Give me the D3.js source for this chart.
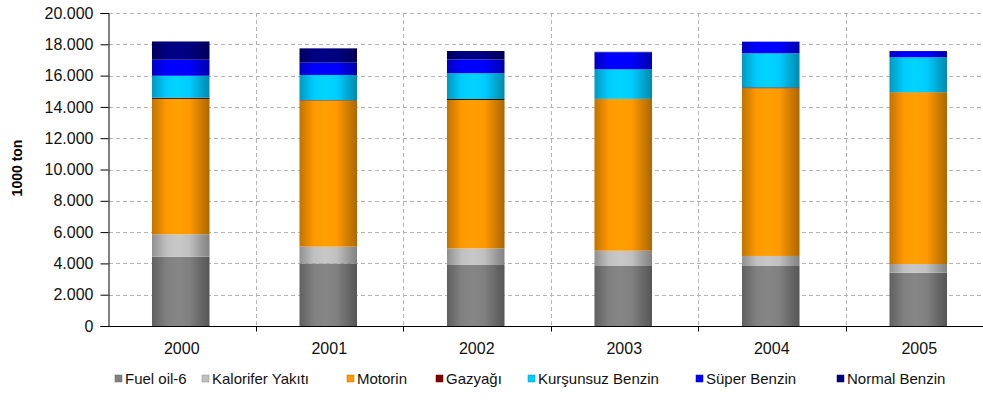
<!DOCTYPE html>
<html><head><meta charset="utf-8">
<script src="https://cdn.jsdelivr.net/npm/d3@7"></script>
<style>body{margin:0;background:#fff}svg{display:block}text{font-family:"Liberation Sans",Arial,sans-serif}</style>
</head><body><svg id="c" width="983" height="400"></svg>
<script>
const years = ["2000","2001","2002","2003","2004","2005"];
const seriesNames = ["Fuel oil-6","Kalorifer Yakıtı","Motorin","Gazyağı","Kurşunsuz Benzin","Süper Benzin","Normal Benzin"];
const seriesColors = ["#808080","#c0c0c0","#ff9900","#800000","#00ccff","#0000ff","#000080"];
const fuelOil   = [4430, 4000, 3900, 3835, 3835, 3405];
const kalorifer = [1430, 1070, 1060,  975,  640,  555];
const motorin   = [8650, 9340, 9480, 9695,10715,10970];
const gazyagi   = [  80,   30,   65,   10,   60,   10];
const kursunsuz = [1400, 1600, 1645, 1885, 2175, 2230];
const super_    = [1025,  785,  880, 1090,  745,  400];
const normal    = [1166,  915,  543,   30,    0,    0];
const yTicks = [0,2000,4000,6000,8000,10000,12000,14000,16000,18000,20000];

const seriesValues = [fuelOil,kalorifer,motorin,gazyagi,kursunsuz,super_,normal];
const rows = years.map((y,i)=>{const r={year:y}; seriesNames.forEach((s,j)=>r[s]=seriesValues[j][i]); return r;});
const stacked = d3.stack().keys(seriesNames)(rows);

const svg = d3.select("#c");
const x = d3.scaleBand().domain(years).range([108,993]).padding(0);
const y = d3.scaleLinear().domain([0,20000]).range([326,13]);
const fmt = v => d3.format(",")(v).replace(/,/g,".");

// gradients (cylinder shading)
const defs = svg.append("defs");
seriesColors.forEach((c,i)=>{
  const g = defs.append("linearGradient").attr("id","g"+i).attr("x1","0").attr("x2","1").attr("y1","0").attr("y2","0");
  const base = i===3 ? d3.color("#401010") : d3.color(c);
  const stops = [[0, base.darker(0.8)],[0.25, base],[0.45, base.brighter(0.12)],[0.65, base],[0.85, base.darker(0.6)],[1, base.darker(1.1)]];
  stops.forEach(([o,col])=>g.append("stop").attr("offset",o).attr("stop-color",col.formatHex()));
});

// grid
const grid = svg.append("g").attr("stroke","#b4b4b4").attr("stroke-dasharray","4,3").attr("stroke-width",1);
yTicks.filter(t=>t>0).forEach(t=>grid.append("line").attr("x1",109).attr("x2",983).attr("y1",Math.round(y(t))+0.5).attr("y2",Math.round(y(t))+0.5));
years.slice(1).forEach(yr=>grid.append("line").attr("x1",Math.round(x(yr))+0.5).attr("x2",Math.round(x(yr))+0.5).attr("y1",13).attr("y2",326));

// bars
const bw = x.bandwidth()*0.39;
stacked.forEach((s,i)=>{
  svg.append("g").attr("fill",`url(#g${i})`).selectAll("rect").data(s).join("rect")
    .attr("x",d=>x(d.data.year)+x.bandwidth()/2-bw/2-1)
    .attr("width",bw)
    .attr("y",d=>y(d[1]))
    .attr("height",d=>Math.max(0,y(d[0])-y(d[1])));
});

// axes
const ya = svg.append("g").attr("transform","translate(108.5,0)")
  .call(d3.axisLeft(y).tickValues(yTicks).tickFormat(fmt).tickSize(8).tickPadding(7));
ya.select(".domain").attr("stroke","#000");
ya.selectAll("text").attr("font-size","16px").attr("fill","#111").attr("font-family","Liberation Sans, Arial, sans-serif");
const xa = svg.append("g").attr("transform","translate(0,326.5)")
  .call(d3.axisBottom(x).tickSize(0).tickPadding(16));
xa.select(".domain").attr("stroke","#000").attr("d","M108,0H983");
xa.selectAll("text").attr("font-size","16px").attr("fill","#111").attr("font-family","Liberation Sans, Arial, sans-serif");
years.slice(1).forEach(yr=>xa.append("line").attr("x1",Math.round(x(yr))+0.5).attr("x2",Math.round(x(yr))+0.5).attr("y1",0).attr("y2",5).attr("stroke","#000"));

// y label
svg.append("text").attr("transform","translate(22,168) rotate(-90)").attr("text-anchor","middle")
  .attr("font-size","14px").attr("font-weight","bold").attr("fill","#000").text("1000 ton");

// legend
const legX = [115,202,347,436,528,696,837];
const lg = svg.append("g");
seriesNames.forEach((s,i)=>{
  lg.append("rect").attr("x",legX[i]).attr("y",375).attr("width",7).attr("height",7).attr("fill",seriesColors[i]).attr("stroke",d3.color(seriesColors[i]).darker(0.8)).attr("stroke-width",0.5);
  lg.append("text").attr("x",legX[i]+10).attr("y",384).attr("font-size","15px").attr("fill","#111").text(s);
});
</script></body></html>
